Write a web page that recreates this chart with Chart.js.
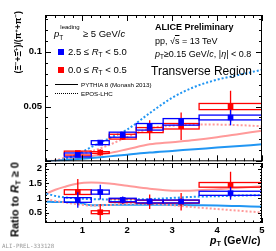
<!DOCTYPE html>
<html>
<head>
<meta charset="utf-8">
<script src="https://cdn.jsdelivr.net/npm/chart.js@4.4.1/dist/chart.umd.min.js"></script>
<style>
body { margin: 0; width: 276px; height: 251px; position: relative; background: #fff; overflow: hidden;
       font-family: "Liberation Sans", Arial, sans-serif; }
canvas { position: absolute; left: 0; }
.t { position: absolute; white-space: nowrap; color: #000; line-height: 1; }
.t sub { font-size: 70%; vertical-align: -0.3em; line-height: 0; }
.t sup { font-size: 70%; vertical-align: 0.5em; line-height: 0; }
.sq { position: absolute; width: 6px; height: 6px; }
</style>
</head>
<body>
<canvas id="topChart" width="276" height="170" style="top:0"></canvas>
<canvas id="ratioChart" width="276" height="101" style="top:150px"></canvas>

<!-- legend -->
<div class="t" style="left:54px;top:29px;font-size:9.5px"><i>p</i><span style="display:inline-block;position:relative;width:21px;height:8px"><span style="position:absolute;left:1px;top:-5px;font-size:6px">leading</span><span style="position:absolute;left:0;top:6px;font-size:6.5px">T</span></span> ≥ 5 GeV/<i>c</i></div>
<div class="sq" style="left:58px;top:49px;background:#0000ff"></div>
<div class="t" style="left:68px;top:47px;font-size:9.5px">2.5 ≤ <i>R</i><sub>T</sub> &lt; 5.0</div>
<div class="sq" style="left:58px;top:67px;background:#ff0000"></div>
<div class="t" style="left:68px;top:65px;font-size:9.5px">0.0 ≤ <i>R</i><sub>T</sub> &lt; 0.5</div>
<div style="position:absolute;left:55px;top:84px;width:23px;border-top:1.5px solid #000"></div>
<div class="t" style="left:81px;top:82px;font-size:6.2px">PYTHIA 8 (Monash 2013)</div>
<div style="position:absolute;left:55px;top:93px;width:23px;border-top:1.5px dotted #000"></div>
<div class="t" style="left:81px;top:91px;font-size:6.2px">EPOS-LHC</div>

<!-- labels -->
<div class="t" style="left:155px;top:23px;font-size:9px;font-weight:bold">ALICE Preliminary</div>
<div class="t" style="left:155px;top:37px;font-size:9px">pp, √<span style="text-decoration:overline">s</span> = 13 TeV</div>
<div class="t" style="left:155px;top:50px;font-size:9px"><i>p</i><sub>T</sub>≥0.15 GeV/<i>c</i>, |<i>η</i>| &lt; 0.8</div>
<div class="t" style="left:151px;top:65px;font-size:12px">Transverse Region</div>

<!-- axis titles -->
<div class="t" style="left:-24px;top:38px;width:84px;text-align:center;font-size:8.6px;font-weight:bold;transform:rotate(-90deg)">(Ξ<sup>−</sup>+Ξ̄<sup>+</sup>)/(π<sup>+</sup>+π<sup>−</sup>)</div>
<div class="t" style="left:-31px;top:194px;width:92px;text-align:center;font-size:11px;font-weight:bold;transform:rotate(-90deg)">Ratio to <i>R</i><sub>T</sub> ≥ 0</div>
<div class="t" style="left:210px;top:235px;font-size:10.5px;font-weight:bold"><i>p</i><sub>T</sub> (GeV/<i>c</i>)</div>
<div class="t" style="left:2px;top:244px;font-size:5.8px;color:#9a9a9a;font-family:'DejaVu Sans Mono',monospace">ALI-PREL-333128</div>

<script>
// pT bins
const binLo = [0.6, 1.2, 1.6, 2.2, 2.8, 3.6];
const binHi = [1.2, 1.6, 2.2, 2.8, 3.6, 5.0];
const binCenter = [0.9, 1.4, 1.9, 2.5, 3.2, 4.3];

// (Xi + anti-Xi)/(pi+ + pi-)
const highRt = [0.0058, 0.017, 0.0243, 0.0315, 0.036, 0.040];
const highRtStat = [0.0008, 0.0015, 0.0015, 0.002, 0.003, 0.007];
const highRtSyst = [0.0018, 0.0018, 0.0023, 0.003, 0.003, 0.0022];
const lowRt = [0.0075, 0.008, 0.0225, 0.0285, 0.032, 0.050];
const lowRtStat = [0.001, 0.003, 0.003, 0.009, 0.0125, 0.0144];
const lowRtSyst = [0.0018, 0.0008, 0.0022, 0.0023, 0.0025, 0.0028];

// ratio to RT >= 0
const highRatio = [0.93, 1.2, 0.93, 0.88, 0.88, 1.16];
const highRatioStat = [0.27, 0.25, 0.12, 0.1, 0.08, 0.22];
const highRatioSyst = [0.08, 0.07, 0.06, 0.05, 0.05, 0.07];
const lowRatio = [1.2, 0.51, 0.91, 0.87, 0.87, 1.45];
const lowRatioStat = [0.45, 0.28, 0.1, 0.25, 0.3, 0.45];
const lowRatioSyst = [0.08, 0.05, 0.06, 0.05, 0.05, 0.08];

// models
const modelX = [0.2, 0.4, 0.6, 0.9, 1.2, 1.6, 2.0, 2.5, 3.0, 3.5, 4.0, 4.5, 5.0];
const eposHigh = [0.0, 0.0005, 0.002, 0.0065, 0.013, 0.021, 0.029, 0.044, 0.058, 0.068, 0.0745, 0.079, 0.0836];
const eposLow = [0.0, 0.001, 0.003, 0.006, 0.009, 0.015, 0.022, 0.030, 0.0325, 0.0335, 0.0335, 0.033, 0.032];
const pythiaLow = [0.0, 0.0005, 0.0015, 0.003, 0.0048, 0.0075, 0.011, 0.0155, 0.0175, 0.0195, 0.022, 0.025, 0.028];
const pythiaHigh = [0.0, 0.0003, 0.001, 0.002, 0.003, 0.0045, 0.006, 0.008, 0.0095, 0.011, 0.0125, 0.014, 0.0155];
const ratioPythiaLow = [1.15, 1.28, 1.38, 1.5, 1.53, 1.5, 1.42, 1.32, 1.25, 1.26, 1.3, 1.35, 1.4];
const ratioPythiaHigh = [0.87, 0.86, 0.86, 0.84, 0.75, 0.76, 0.77, 0.77, 0.76, 0.75, 0.74, 0.72, 0.70];
const ratioEposHigh = [1.15, 1.07, 1.02, 0.98, 0.96, 0.95, 0.95, 0.96, 1.0, 1.04, 1.06, 1.08, 1.1];
const ratioEposLow = [0.95, 0.9, 0.85, 0.78, 0.74, 0.76, 0.8, 0.8, 0.75, 0.68, 0.62, 0.56, 0.5];

// tick labels
const xTicks = [1, 2, 3, 4, 5];
const yTopTicks = [0.05, 0.1];
const yRatioTicks = [0.5, 1, 1.5, 2];

const BLUE = "#0000ff";
const RED = "#ff0000";
const MODEL_BLUE = "#2196f3";
const MODEL_PINK = "#ff9a9a";

const pts = (xs, ys) => xs.map((x, i) => ({ x: x, y: ys[i] }));

// ROOT-style frame with inward ticks
const frameTicks = {
    id: "frameTicks",
    afterDraw(chart, args, opts) {
        const { ctx, chartArea: a, scales } = chart;
        const x = scales.x, y = scales.y;
        ctx.save();
        ctx.strokeStyle = "#000";
        ctx.lineWidth = 1;
        ctx.strokeRect(a.left + 0.5, a.top + 0.5, a.right - a.left - 1, a.bottom - a.top - 1);
        ctx.beginPath();
        for (let v = 0.2; v <= x.max + 1e-6; v += 0.2) {
            if (v < x.min) continue;
            const major = Math.abs(v - Math.round(v)) < 1e-6;
            const len = major ? opts.xMajor : opts.xMinor;
            const px = Math.round(x.getPixelForValue(v)) + 0.5;
            ctx.moveTo(px, a.bottom); ctx.lineTo(px, a.bottom - len);
            ctx.moveTo(px, a.top); ctx.lineTo(px, a.top + len);
        }
        for (let k = Math.ceil(y.min / opts.yStep); k * opts.yStep <= y.max + 1e-9; k++) {
            const v = k * opts.yStep;
            const major = k % opts.yEvery === 0;
            const len = major ? opts.yMajor : opts.yMinor;
            const py = Math.round(y.getPixelForValue(v)) + 0.5;
            ctx.moveTo(a.left, py); ctx.lineTo(a.left + len, py);
            ctx.moveTo(a.right, py); ctx.lineTo(a.right - len, py);
        }
        ctx.stroke();
        ctx.restore();
    }
};

// systematic boxes and statistical bars, drawn just under their markers
const errorBoxes = {
    id: "errorBoxes",
    beforeDatasetDraw(chart, args) {
        const ds = chart.data.datasets[args.index];
        if (!ds.stat) return;
        const { ctx, chartArea: a, scales } = chart;
        const x = scales.x, y = scales.y;
        ctx.save();
        ctx.beginPath();
        ctx.rect(a.left, a.top, a.right - a.left, a.bottom - a.top);
        ctx.clip();
        ctx.strokeStyle = ds.backgroundColor;
        ctx.lineWidth = 1.3;
        ds.data.forEach((p, i) => {
            const x0 = x.getPixelForValue(binLo[i]);
            const x1 = x.getPixelForValue(binHi[i]);
            const yt = y.getPixelForValue(p.y + ds.syst[i]);
            const yb = y.getPixelForValue(p.y - ds.syst[i]);
            ctx.strokeRect(x0, yt, x1 - x0, yb - yt);
            const xc = x.getPixelForValue(p.x);
            ctx.beginPath();
            ctx.moveTo(xc, y.getPixelForValue(p.y + ds.stat[i]));
            ctx.lineTo(xc, y.getPixelForValue(p.y - ds.stat[i]));
            ctx.stroke();
        });
        ctx.restore();
    }
};

function markerSet(values, stat, syst, color) {
    return {
        data: pts(binCenter, values),
        stat: stat,
        syst: syst,
        backgroundColor: color,
        borderColor: color,
        pointStyle: "rect",
        pointRadius: 4,
        pointBorderWidth: 0,
        showLine: false
    };
}

function modelSet(values, color, dotted) {
    return {
        data: pts(modelX, values),
        borderColor: color,
        borderWidth: 2,
        borderDash: dotted ? [2, 2] : [],
        pointRadius: 0,
        showLine: true,
        cubicInterpolationMode: "monotone"
    };
}

const tickFont = { family: "Liberation Sans, Arial, sans-serif", size: 9.5, weight: "bold" };

function yAxis(min, max, labels) {
    return {
        type: "linear",
        min: min,
        max: max,
        grid: { display: false, drawTicks: false, tickLength: 0 },
        border: { display: false },
        afterFit: (s) => { s.width = 45; },
        afterBuildTicks: (s) => { s.ticks = labels.map((v) => ({ value: v })); },
        ticks: { color: "#000", font: tickFont, padding: 3, autoSkip: false, callback: (v) => String(v) }
    };
}

const baseOptions = {
    responsive: false,
    animation: false,
    events: [],
    plugins: { legend: { display: false }, tooltip: { enabled: false } }
};

new Chart(document.getElementById("topChart").getContext("2d"), {
    type: "scatter",
    data: {
        datasets: [
            markerSet(highRt, highRtStat, highRtSyst, BLUE),
            markerSet(lowRt, lowRtStat, lowRtSyst, RED),
            modelSet(eposHigh, MODEL_BLUE, true),
            modelSet(eposLow, MODEL_PINK, true),
            modelSet(pythiaHigh, MODEL_BLUE, false),
            modelSet(pythiaLow, MODEL_PINK, false)
        ]
    },
    options: {
        ...baseOptions,
        layout: { padding: { top: 15, right: 14, bottom: 8, left: 0 } },
        scales: {
            x: { type: "linear", min: 0.17, max: 5.0, display: false },
            y: yAxis(0, 0.1336, yTopTicks)
        },
        plugins: {
            ...baseOptions.plugins,
            frameTicks: { xMajor: 6, xMinor: 3, yStep: 0.01, yEvery: 5, yMajor: 6, yMinor: 3 }
        }
    },
    plugins: [errorBoxes, frameTicks]
});

new Chart(document.getElementById("ratioChart").getContext("2d"), {
    type: "scatter",
    data: {
        datasets: [
            markerSet(highRatio, highRatioStat, highRatioSyst, BLUE),
            markerSet(lowRatio, lowRatioStat, lowRatioSyst, RED),
            modelSet(ratioEposHigh, MODEL_BLUE, true),
            modelSet(ratioEposLow, MODEL_PINK, true),
            modelSet(ratioPythiaHigh, MODEL_BLUE, false),
            modelSet(ratioPythiaLow, MODEL_PINK, false)
        ]
    },
    options: {
        ...baseOptions,
        layout: { padding: { top: 13, right: 14, bottom: 0, left: 0 } },
        scales: {
            x: {
                type: "linear",
                min: 0.17,
                max: 5.0,
                grid: { display: false, drawTicks: false, tickLength: 0 },
                border: { display: false },
                afterFit: (s) => { s.height = 28; },
                afterBuildTicks: (s) => { s.ticks = xTicks.map((v) => ({ value: v })); },
                ticks: { color: "#000", font: tickFont, padding: 2, autoSkip: false, maxRotation: 0 }
            },
            y: yAxis(0.14, 2.2, yRatioTicks)
        },
        plugins: {
            ...baseOptions.plugins,
            frameTicks: { xMajor: 5, xMinor: 2.5, yStep: 0.1, yEvery: 5, yMajor: 4, yMinor: 2 }
        }
    },
    plugins: [errorBoxes, frameTicks]
});
</script>
</body>
</html>
